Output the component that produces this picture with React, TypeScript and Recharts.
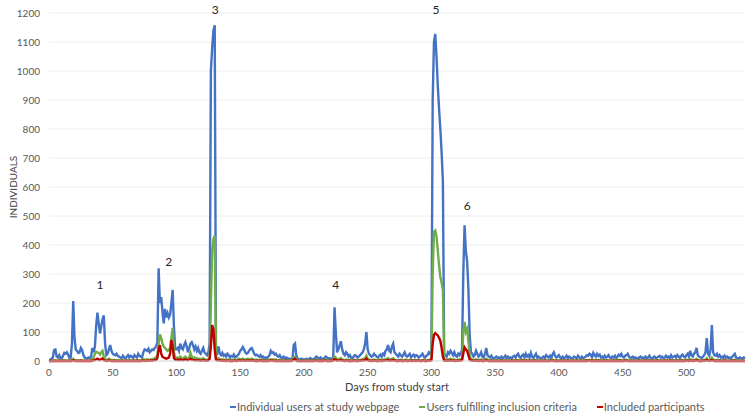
import React from "react";
import {
  LineChart,
  Line,
  XAxis,
  YAxis,
  CartesianGrid,
  ReferenceDot,
} from "recharts";

// daily counts, day 0 .. 546
const webpageUsers: number[] = [
  5, 3, 8, 12, 38, 40, 15, 12, 20, 10, 8, 18, 28, 25, 30, 22, 10, 12, 60, 207,
  80, 40, 35, 28, 30, 45, 38, 20, 12, 10, 8, 12, 10, 15, 45, 30, 50, 120, 167, 130,
  95, 120, 145, 157, 60, 20, 25, 40, 55, 35, 25, 22, 20, 25, 18, 15, 12, 10, 18, 12,
  8, 15, 20, 12, 18, 15, 10, 20, 15, 12, 25, 18, 15, 12, 30, 40, 38, 35, 42, 30,
  35, 40, 38, 45, 50, 65, 320, 200, 220, 170, 130, 180, 150, 165, 150, 160, 200, 245, 120, 40,
  40, 45, 35, 60, 45, 40, 55, 65, 50, 30, 45, 60, 65, 55, 40, 50, 35, 45, 30, 25,
  35, 45, 30, 25, 20, 30, 60, 1000, 1080, 1140, 1158, 40, 30, 50, 25, 20, 28, 18, 22, 15,
  25, 20, 12, 18, 15, 22, 12, 15, 20, 25, 35, 40, 48, 40, 30, 25, 28, 35, 42, 45,
  35, 25, 20, 22, 18, 15, 20, 12, 15, 10, 12, 8, 15, 20, 35, 28, 30, 22, 25, 18,
  15, 20, 12, 10, 15, 8, 12, 10, 6, 8, 5, 8, 55, 60, 20, 8, 6, 5, 8, 5,
  6, 4, 8, 5, 7, 10, 6, 5, 8, 12, 15, 10, 8, 12, 6, 8, 10, 15, 12, 8,
  10, 6, 8, 15, 185, 100, 30, 40, 55, 68, 40, 25, 20, 30, 25, 15, 20, 12, 10, 15,
  20, 18, 12, 15, 20, 25, 30, 40, 60, 100, 40, 25, 20, 15, 18, 25, 20, 15, 12, 18,
  22, 15, 25, 20, 35, 40, 55, 35, 30, 50, 60, 30, 25, 20, 15, 25, 20, 15, 22, 30,
  18, 15, 20, 25, 12, 18, 22, 15, 20, 18, 12, 15, 20, 25, 15, 12, 18, 20, 30, 25,
  30, 900, 1100, 1128, 1050, 950, 870, 800, 720, 620, 25, 20, 15, 30, 25, 35, 28, 20, 30, 18,
  15, 25, 20, 30, 35, 300, 468, 380, 345, 250, 90, 30, 25, 15, 20, 35, 25, 15, 20, 30,
  15, 12, 25, 45, 20, 15, 12, 18, 10, 8, 12, 15, 10, 12, 8, 15, 10, 12, 18, 10,
  15, 10, 12, 8, 15, 18, 12, 20, 25, 15, 10, 18, 22, 12, 25, 15, 20, 12, 28, 15,
  10, 18, 25, 12, 15, 10, 8, 12, 15, 10, 20, 15, 12, 18, 10, 22, 30, 18, 12, 15,
  20, 12, 10, 15, 8, 12, 18, 10, 15, 12, 8, 10, 15, 12, 10, 18, 12, 8, 15, 10,
  12, 15, 20, 18, 25, 22, 12, 28, 20, 15, 25, 18, 22, 12, 15, 10, 18, 12, 15, 20,
  12, 10, 15, 12, 18, 10, 15, 22, 18, 25, 15, 12, 18, 20, 25, 15, 10, 12, 15, 8,
  12, 10, 8, 12, 15, 10, 12, 8, 15, 10, 12, 18, 10, 8, 12, 15, 10, 12, 15, 18,
  12, 15, 10, 12, 18, 12, 15, 10, 20, 12, 15, 18, 12, 20, 15, 10, 18, 22, 15, 12,
  20, 25, 15, 35, 20, 15, 25, 30, 45, 20, 15, 12, 10, 15, 20, 30, 79, 25, 18, 40,
  124, 30, 20, 18, 25, 15, 20, 12, 15, 10, 18, 12, 15, 10, 12, 8, 15, 20, 25, 12, 10, 8, 12, 10, 8, 12, 10,
];

const eligibleUsers: number[] = [
  0, 0, 1, 2, 3, 2, 1, 2, 3, 1, 2, 2, 3, 2, 1, 2, 1, 2, 5, 8,
  4, 3, 2, 3, 2, 3, 2, 1, 2, 1, 2, 1, 2, 3, 8, 12, 25, 32, 30, 28,
  22, 30, 35, 15, 5, 4, 6, 8, 5, 4, 3, 4, 3, 2, 3, 2, 2, 3, 2, 1,
  2, 3, 2, 3, 2, 1, 3, 2, 2, 4, 3, 2, 2, 5, 6, 5, 4, 6, 5, 4,
  6, 5, 8, 10, 12, 20, 60, 92, 80, 60, 50, 45, 40, 35, 38, 45, 80, 114, 30, 12,
  10, 12, 8, 15, 10, 8, 12, 15, 10, 8, 12, 28, 15, 10, 12, 8, 10, 6, 8, 5,
  8, 10, 6, 5, 4, 6, 10, 200, 380, 420, 432, 10, 8, 10, 6, 5, 6, 4, 5, 3,
  4, 5, 3, 4, 3, 5, 4, 3, 5, 8, 6, 5, 8, 6, 5, 6, 8, 5, 6, 8,
  6, 5, 4, 5, 3, 4, 5, 3, 4, 3, 4, 2, 3, 4, 6, 5, 6, 4, 5, 3,
  3, 4, 2, 3, 2, 2, 3, 2, 2, 3, 2, 3, 12, 15, 4, 2, 2, 1, 2, 1,
  2, 1, 2, 1, 2, 3, 2, 1, 2, 3, 4, 2, 2, 3, 2, 2, 3, 4, 3, 2,
  3, 2, 3, 5, 15, 12, 5, 6, 8, 10, 6, 4, 3, 5, 4, 3, 4, 2, 2, 3,
  4, 3, 2, 3, 4, 5, 6, 8, 10, 18, 8, 5, 4, 3, 4, 5, 4, 3, 2, 4,
  5, 3, 5, 4, 6, 8, 10, 6, 5, 8, 10, 5, 4, 3, 2, 3, 4, 3, 2, 3,
  5, 3, 2, 3, 4, 2, 3, 4, 2, 3, 3, 2, 2, 3, 4, 2, 2, 3, 4, 5,
  10, 300, 445, 450, 430, 380, 330, 290, 270, 245, 8, 5, 4, 6, 5, 8, 6, 4, 6, 3,
  3, 5, 4, 6, 8, 100, 135, 100, 110, 70, 20, 8, 5, 3, 4, 6, 5, 3, 4, 5,
  3, 2, 4, 8, 4, 3, 2, 3, 2, 1, 2, 3, 2, 2, 1, 3, 2, 2, 3, 2,
  2, 2, 1, 3, 3, 2, 3, 4, 3, 2, 3, 4, 2, 4, 3, 3, 2, 4, 3, 2,
  3, 4, 2, 3, 2, 1, 2, 3, 2, 3, 3, 2, 3, 2, 4, 5, 3, 2, 3, 3,
  2, 2, 3, 1, 2, 3, 2, 3, 2, 1, 2, 3, 2, 2, 3, 2, 1, 3, 2, 2,
  3, 3, 3, 4, 4, 2, 5, 3, 3, 4, 3, 4, 2, 3, 2, 3, 2, 3, 3, 2,
  2, 3, 2, 3, 2, 3, 4, 3, 4, 3, 2, 3, 3, 4, 3, 2, 2, 3, 1, 2,
  2, 1, 2, 3, 2, 2, 1, 3, 2, 2, 3, 2, 1, 2, 3, 2, 2, 3, 3, 2,
  3, 2, 2, 3, 2, 3, 2, 3, 2, 3, 3, 2, 3, 3, 2, 3, 4, 3, 2, 3,
  4, 4, 3, 6, 4, 3, 4, 5, 8, 4, 3, 2, 2, 3, 4, 5, 10, 4, 3, 6,
  12, 5, 3, 3, 4, 2, 3, 2, 2, 1, 3, 2, 2, 1, 2, 1, 2, 3, 4, 2, 2, 1, 2, 1, 2, 2, 1,
];

const includedParticipants: number[] = [
  0, 0, 0, 0, 0, 0, 0, 0, 0, 0, 0, 0, 0, 0, 0, 0, 0, 0, 1, 2,
  1, 0, 0, 0, 0, 1, 0, 0, 0, 0, 0, 0, 0, 0, 1, 2, 4, 6, 8, 5,
  4, 7, 9, 3, 1, 0, 1, 2, 1, 0, 0, 0, 0, 0, 0, 0, 0, 0, 0, 0,
  0, 0, 0, 0, 0, 0, 0, 0, 0, 1, 0, 0, 0, 1, 1, 1, 0, 1, 1, 1,
  2, 1, 2, 3, 4, 10, 40, 55, 25, 15, 12, 10, 8, 10, 12, 25, 72, 50, 10, 5,
  4, 5, 3, 6, 4, 3, 5, 6, 4, 3, 5, 8, 5, 4, 3, 2, 3, 2, 2, 1,
  2, 3, 2, 1, 1, 2, 8, 50, 124, 110, 40, 5, 2, 3, 2, 1, 1, 1, 1, 0,
  1, 1, 0, 1, 0, 1, 1, 0, 1, 2, 1, 1, 2, 1, 1, 1, 2, 1, 1, 2,
  1, 1, 0, 1, 0, 1, 1, 0, 1, 0, 1, 0, 0, 1, 2, 1, 1, 0, 1, 0,
  0, 1, 0, 0, 0, 0, 1, 0, 0, 0, 0, 1, 6, 8, 1, 0, 0, 0, 0, 0,
  0, 0, 0, 0, 0, 1, 0, 0, 0, 1, 1, 0, 0, 1, 0, 0, 1, 1, 0, 0,
  1, 0, 1, 1, 6, 4, 1, 2, 2, 3, 1, 1, 0, 1, 1, 0, 1, 0, 0, 1,
  1, 0, 0, 1, 1, 1, 2, 2, 3, 8, 2, 1, 1, 0, 1, 1, 1, 0, 0, 1,
  1, 0, 1, 1, 2, 2, 3, 1, 1, 2, 3, 1, 1, 0, 0, 1, 1, 0, 0, 1,
  1, 0, 0, 1, 1, 0, 1, 1, 0, 1, 1, 0, 0, 1, 1, 0, 0, 1, 1, 1,
  3, 60, 90, 96, 92, 88, 80, 70, 45, 15, 2, 1, 1, 1, 1, 2, 1, 1, 1, 0,
  1, 1, 1, 2, 3, 25, 47, 40, 35, 20, 5, 2, 1, 1, 1, 1, 1, 0, 1, 1,
  0, 0, 1, 2, 1, 0, 0, 1, 0, 0, 0, 0, 0, 0, 0, 1, 0, 0, 0, 0,
  0, 0, 0, 1, 0, 0, 0, 1, 0, 0, 0, 1, 0, 1, 0, 0, 0, 1, 0, 0,
  0, 1, 0, 0, 0, 0, 0, 0, 0, 1, 0, 0, 0, 0, 1, 1, 0, 0, 0, 0,
  0, 0, 1, 0, 0, 0, 0, 1, 0, 0, 0, 0, 0, 0, 1, 0, 0, 0, 0, 0,
  0, 1, 0, 1, 1, 0, 1, 0, 0, 1, 0, 1, 0, 0, 0, 1, 0, 0, 1, 0,
  0, 0, 0, 1, 0, 0, 1, 0, 1, 0, 0, 0, 1, 1, 0, 0, 0, 0, 0, 0,
  0, 0, 0, 1, 0, 0, 0, 0, 1, 0, 0, 1, 0, 0, 0, 0, 0, 1, 0, 0,
  0, 0, 0, 1, 0, 0, 0, 0, 1, 0, 0, 0, 1, 0, 0, 1, 0, 1, 0, 0,
  1, 1, 0, 1, 1, 0, 1, 1, 2, 1, 0, 0, 0, 1, 1, 1, 3, 1, 0, 1,
  3, 1, 0, 1, 0, 0, 1, 0, 0, 0, 1, 0, 0, 0, 0, 0, 1, 0, 1, 0, 0, 0, 0, 0, 0, 0, 0,
];

const xTicks = [0, 50, 100, 150, 200, 250, 300, 350, 400, 450, 500];
const yTicks = [0, 100, 200, 300, 400, 500, 600, 700, 800, 900, 1000, 1100, 1200];

// numbered campaign markers: label, day, height
const peakLabels = ["1", "2", "3", "4", "5", "6"];
const peakDays = [40, 94, 130.5, 225, 303.5, 328];
const peakHeights = [262, 341, 1210, 262, 1212, 535];

const SERIES = [
  { key: "users", name: "Individual users at study webpage", color: "#4472C4" },
  { key: "eligible", name: "Users fulfilling inclusion criteria", color: "#70AD47" },
  { key: "included", name: "Included participants", color: "#C00000" },
];

const FONT = "Lato, 'Open Sans', sans-serif";
const INK = "#595959";

const data = webpageUsers.map((v, i) => ({
  day: i,
  users: v,
  eligible: eligibleUsers[i],
  included: includedParticipants[i],
}));

export default function App() {
  return (
    <div style={{ position: "absolute", left: 0, top: 0, width: 747, height: 417, background: "#fff", fontFamily: FONT }}>
      <LineChart
        width={747}
        height={417}
        data={data}
        margin={{ top: 13, right: 2, left: 0, bottom: 0 }}
        style={{ overflow: "visible" }}
      >
        <CartesianGrid stroke="#eeeeee" vertical={false} />
        <XAxis
          dataKey="day"
          type="number"
          domain={[0, 546]}
          ticks={xTicks}
          height={56}
          tickLine={false}
          axisLine={{ stroke: "#d9d9d9" }}
          tickMargin={2}
          tick={{ fontSize: 10, fill: INK, fontFamily: FONT }}
          label={{
            value: "Days from study start",
            position: "insideBottom",
            offset: 26,
            style: { fontSize: 11, fill: "#404040", fontFamily: FONT },
          }}
        />
        <YAxis
          domain={[0, 1200]}
          ticks={yTicks}
          width={49}
          axisLine={false}
          tickLine={false}
          tickMargin={3}
          tick={{ fontSize: 10, fill: INK, fontFamily: FONT }}
          label={{
            value: "INDIVIDUALS",
            angle: -90,
            position: "insideLeft",
            offset: 13,
            style: { textAnchor: "middle", fontSize: 10, fill: "#404040", fontFamily: FONT },
          }}
        />
        {SERIES.map((s) => (
          <Line
            key={s.key}
            dataKey={s.key}
            name={s.name}
            type="linear"
            stroke={s.color}
            strokeWidth={2.4}
            dot={false}
            activeDot={false}
            isAnimationActive={false}
          />
        ))}
        {peakLabels.map((t, i) => (
          <ReferenceDot
            key={t}
            x={peakDays[i]}
            y={peakHeights[i]}
            r={1}
            fillOpacity={0}
            strokeOpacity={0}
            ifOverflow="visible"
            label={{ value: t, position: "center", style: { fontSize: 12, fill: "#262626", fontFamily: FONT } }}
          />
        ))}
      </LineChart>

      {/* legend */}
      <div
        style={{
          position: "absolute",
          left: 230,
          top: 400,
          display: "flex",
          gap: 20,
          fontSize: 11,
          color: INK,
          lineHeight: "14px",
          whiteSpace: "nowrap",
        }}
      >
        {SERIES.map((s) => (
          <div key={s.key} style={{ display: "flex", alignItems: "center" }}>
            <span style={{ display: "inline-block", width: 6, height: 2.5, background: s.color, marginRight: 1 }} />
            {s.name}
          </div>
        ))}
      </div>
    </div>
  );
}
